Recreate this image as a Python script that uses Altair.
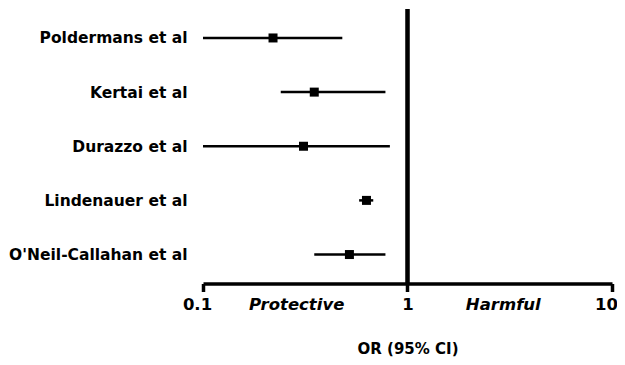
import altair as alt
import pandas as pd

studies = ["Poldermans et al", "Kertai et al", "Durazzo et al", "Lindenauer et al", "O'Neil-Callahan et al"]
or_est = [0.22, 0.35, 0.31, 0.63, 0.52]
ci_low = [0.10, 0.24, 0.10, 0.58, 0.35]
ci_high = [0.48, 0.78, 0.82, 0.68, 0.78]

x_ticks = [0.1, 1, 10]
notes = ["Protective", "Harmful"]
note_x = [0.287, 2.94]

df = pd.DataFrame({"study": studies, "or": or_est, "lo": ci_low, "hi": ci_high})
notes_df = pd.DataFrame({"label": notes, "x": note_x})

FONT = "DejaVu Sans"
W, H = 409, 274.5

xscale = alt.Scale(type="log", domain=[0.1, 10])
yenc = alt.Y(
    "study:N",
    sort=studies,
    scale=alt.Scale(type="point", padding=0.535),
    axis=alt.Axis(
        title=None, domain=False, ticks=False, labelPadding=16,
        labelFont=FONT, labelFontSize=15.5, labelFontWeight="bold", labelColor="black",
    ),
)

ci = alt.Chart(df).mark_rule(color="black", strokeWidth=2.5).encode(
    x=alt.X(
        "lo:Q", scale=xscale,
        axis=alt.Axis(
            values=x_ticks, format=".1~f", title="OR (95% CI)", grid=False,
            domainColor="black", domainWidth=3.5, tickColor="black", tickWidth=3.5, tickSize=8,
            labelFlush=False, labelOverlap=False, labelBound=False,
            labelOffset={"condition": {"test": "datum.value != 1", "value": -6}, "value": 0},
            labelFont=FONT, labelFontSize=16.5, labelFontWeight="bold", labelColor="black",
            labelPadding=5, titleFont=FONT, titleFontSize=15, titleFontWeight="bold",
            titleColor="black", titlePadding=28,
        ),
    ),
    x2="hi:Q",
    y=yenc,
)

pts = alt.Chart(df).mark_square(color="black", size=81, opacity=1).encode(
    x=alt.X("or:Q", scale=xscale), y=alt.Y("study:N", sort=studies)
)

vline = alt.Chart(df).mark_rule(color="black", strokeWidth=3.5).encode(
    x=alt.datum(1, scale=xscale)
)

txt = alt.Chart(notes_df).mark_text(
    font=FONT, fontSize=16.5, fontWeight="bold", fontStyle="italic", color="black", baseline="middle"
).encode(
    x=alt.X("x:Q", scale=xscale),
    y=alt.value(H + 21),
    text="label:N",
)

chart = (
    alt.layer(ci, pts, vline, txt)
    .properties(width=W, height=H, autosize=alt.AutoSizeParams(type="none"),
                padding={"left": 195, "top": 1, "right": 5, "bottom": 73})
    .configure_view(stroke=None)
)

chart.save("out.html", embed_options={"renderer": "svg", "actions": False})
